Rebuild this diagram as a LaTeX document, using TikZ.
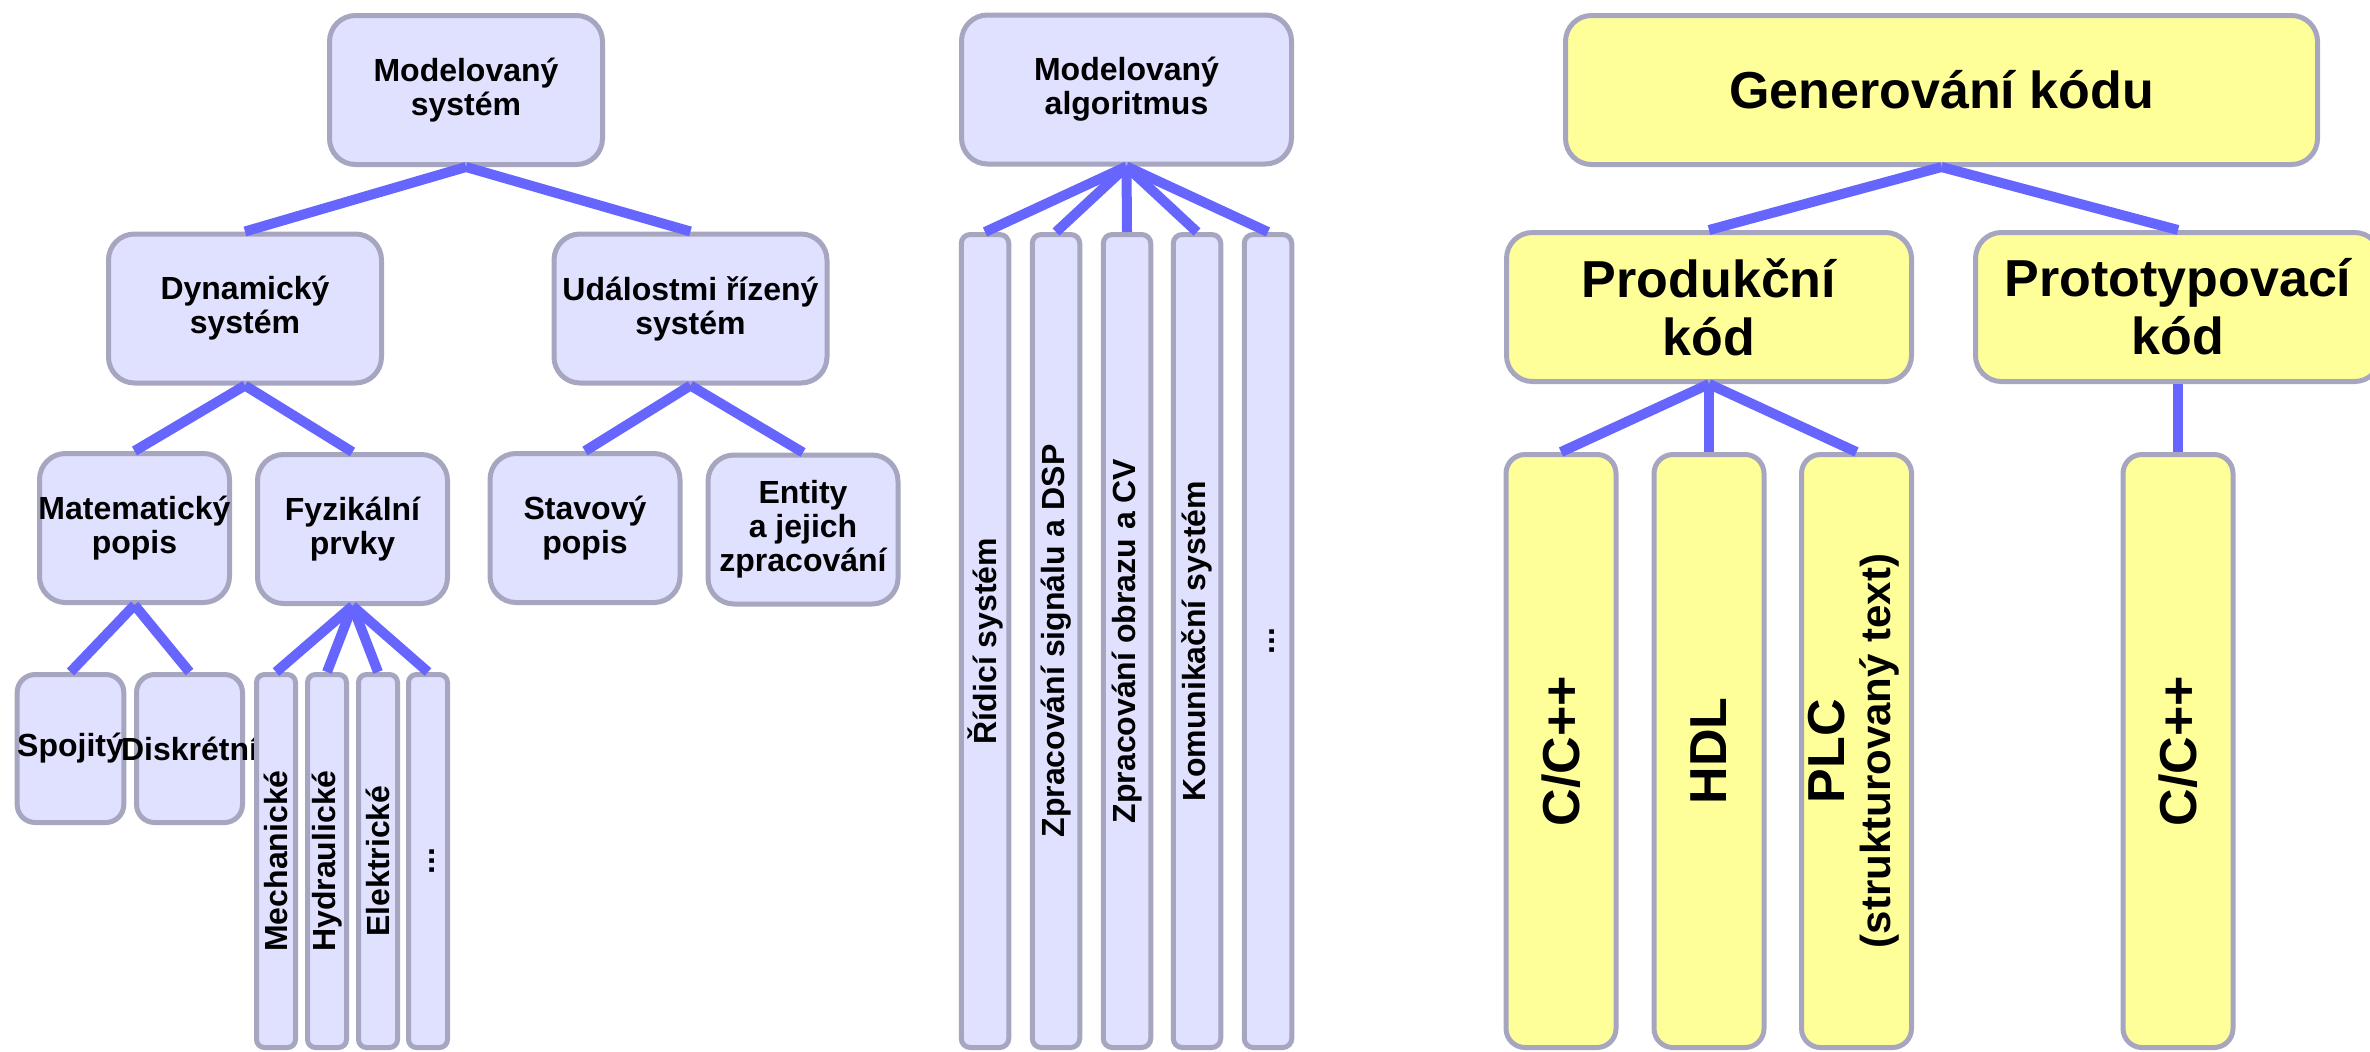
\documentclass[tikz,border=0pt]{standalone}
\usepackage{fontspec}
\setmainfont{Liberation Sans}
\usepackage{graphicx}

\definecolor{boxblue}{RGB}{224,224,255}
\definecolor{boxyellow}{RGB}{255,255,153}
\definecolor{rimgray}{RGB}{166,166,192}
\definecolor{linkblue}{RGB}{102,102,255}

\begin{document}
\begin{tikzpicture}[x=0.5pt, y=-0.5pt,
  box/.style={draw=rimgray, line width=2.5pt, rounded corners=13pt, inner sep=0pt, align=center},
  bluebox/.style={box, fill=boxblue, minimum width=136.5pt, minimum height=74.5pt,
    font=\fontsize{16}{17}\selectfont\bfseries},
  bluemid/.style={bluebox, minimum width=95pt},
  bluesmall/.style={bluebox, minimum width=53pt, minimum height=74pt, rounded corners=9pt},
  thinbar/.style={bluebox, minimum width=19.5pt, minimum height=186.5pt, rounded corners=4pt},
  algbar/.style={bluebox, minimum width=23.75pt, minimum height=406.5pt, rounded corners=4.5pt},
  yelbox/.style={box, fill=boxyellow, minimum width=202.5pt, minimum height=74.5pt,
    font=\fontsize{26}{29}\selectfont\bfseries},
  yelbar/.style={yelbox, minimum width=55pt, minimum height=296.5pt, rounded corners=9.5pt},
  link/.style={draw=linkblue, line width=5pt},
]
  \useasboundingbox (0,0) rectangle (2370,1051);
  \clip (0,0) rectangle (2370,1051);

  % modelovany system
  \node[bluebox] (msys) at (466,90) {Modelovaný\\systém};
  \node[bluebox] (dyn) at (245,308.5) {Dynamický\\systém};
  \node[bluebox] (udal) at (690.5,308.5) {Událostmi řízený\\systém};
  \node[bluemid] (mat) at (134.5,528) {\makebox[0pt]{Matematický}\\popis};
  \node[bluemid] (fyz) at (352.5,529) {Fyzikální\\prvky};
  \node[bluemid] (stav) at (585,528) {Stavový\\popis};
  \node[bluemid] (ent) at (803,529.5) {Entity\\a jejich\\zpracování};
  \node[bluesmall] (spoj) at (70.5,748.5) {Spojitý};
  \node[bluesmall] (disk) at (189.5,748.5) {\makebox[0pt]{Diskrétní}};
  \node[thinbar] (mech) at (276,861) {\rotatebox{90}{Mechanické}};
  \node[thinbar] (hydr) at (327,861) {\rotatebox{90}{Hydraulické}};
  \node[thinbar] (elek) at (378,861) {\rotatebox{90}{Elektrické}};
  \node[thinbar] (fdots) at (428,861) {\rotatebox{90}{\strut...}};

  \draw[link] (msys.south) -- (dyn.north);
  \draw[link] (msys.south) -- (udal.north);
  \draw[link] (dyn.south) -- (mat.north);
  \draw[link] (dyn.south) -- (fyz.north);
  \draw[link] (udal.south) -- (stav.north);
  \draw[link] (udal.south) -- (ent.north);
  \draw[link] (mat.south) -- (spoj.north);
  \draw[link] (mat.south) -- (disk.north);
  \draw[link] (fyz.south) -- (mech.north);
  \draw[link] (fyz.south) -- (hydr.north);
  \draw[link] (fyz.south) -- (elek.north);
  \draw[link] (fyz.south) -- (fdots.north);

  % modelovany algoritmus
  \node[bluebox, minimum width=165pt] (alg) at (1126.5,89.5) {Modelovaný\\algoritmus};
  \node[algbar] (ridi) at (985,641) {\rotatebox{90}{Řídicí systém}};
  \node[algbar] (dsp) at (1056,641) {\rotatebox{90}{Zpracování signálu a DSP}};
  \node[algbar] (cv) at (1127,641) {\rotatebox{90}{Zpracování obrazu a CV}};
  \node[algbar] (komu) at (1197,641) {\rotatebox{90}{Komunikační systém}};
  \node[algbar] (adots) at (1268,641) {\rotatebox{90}{\strut...}};

  \draw[link] (alg.south) -- (ridi.north);
  \draw[link] (alg.south) -- (dsp.north);
  \draw[link] (alg.south) -- (cv.north);
  \draw[link] (alg.south) -- (komu.north);
  \draw[link] (alg.south) -- (adots.north);

  % generovani kodu
  \node[yelbox, minimum width=376pt] (gen) at (1941.5,90) {Generování kódu};
  \node[yelbox] (prod) at (1709,307) {Produkční\\kód};
  \node[yelbox] (proto) at (2178,307) {Prototypovací\\kód};
  \node[yelbar] (cpp) at (1561,751) {\rotatebox{90}{C/C++}};
  \node[yelbar] (hdl) at (1709,751) {\rotatebox{90}{HDL}};
  \node[yelbar] (plc) at (1856.5,751) {\rotatebox{90}{\def\arraystretch{0.8}%
    \begin{tabular}{@{}c@{}}PLC\\\fontsize{21}{23}\selectfont(strukturovaný text)\end{tabular}}};
  \node[yelbar] (cppb) at (2178,751) {\rotatebox{90}{C/C++}};

  \draw[link] (gen.south) -- (prod.north);
  \draw[link] (gen.south) -- (proto.north);
  \draw[link] (prod.south) -- (cpp.north);
  \draw[link] (prod.south) -- (hdl.north);
  \draw[link] (prod.south) -- (plc.north);
  \draw[link] (proto.south) -- (cppb.north);
\end{tikzpicture}
\end{document}
